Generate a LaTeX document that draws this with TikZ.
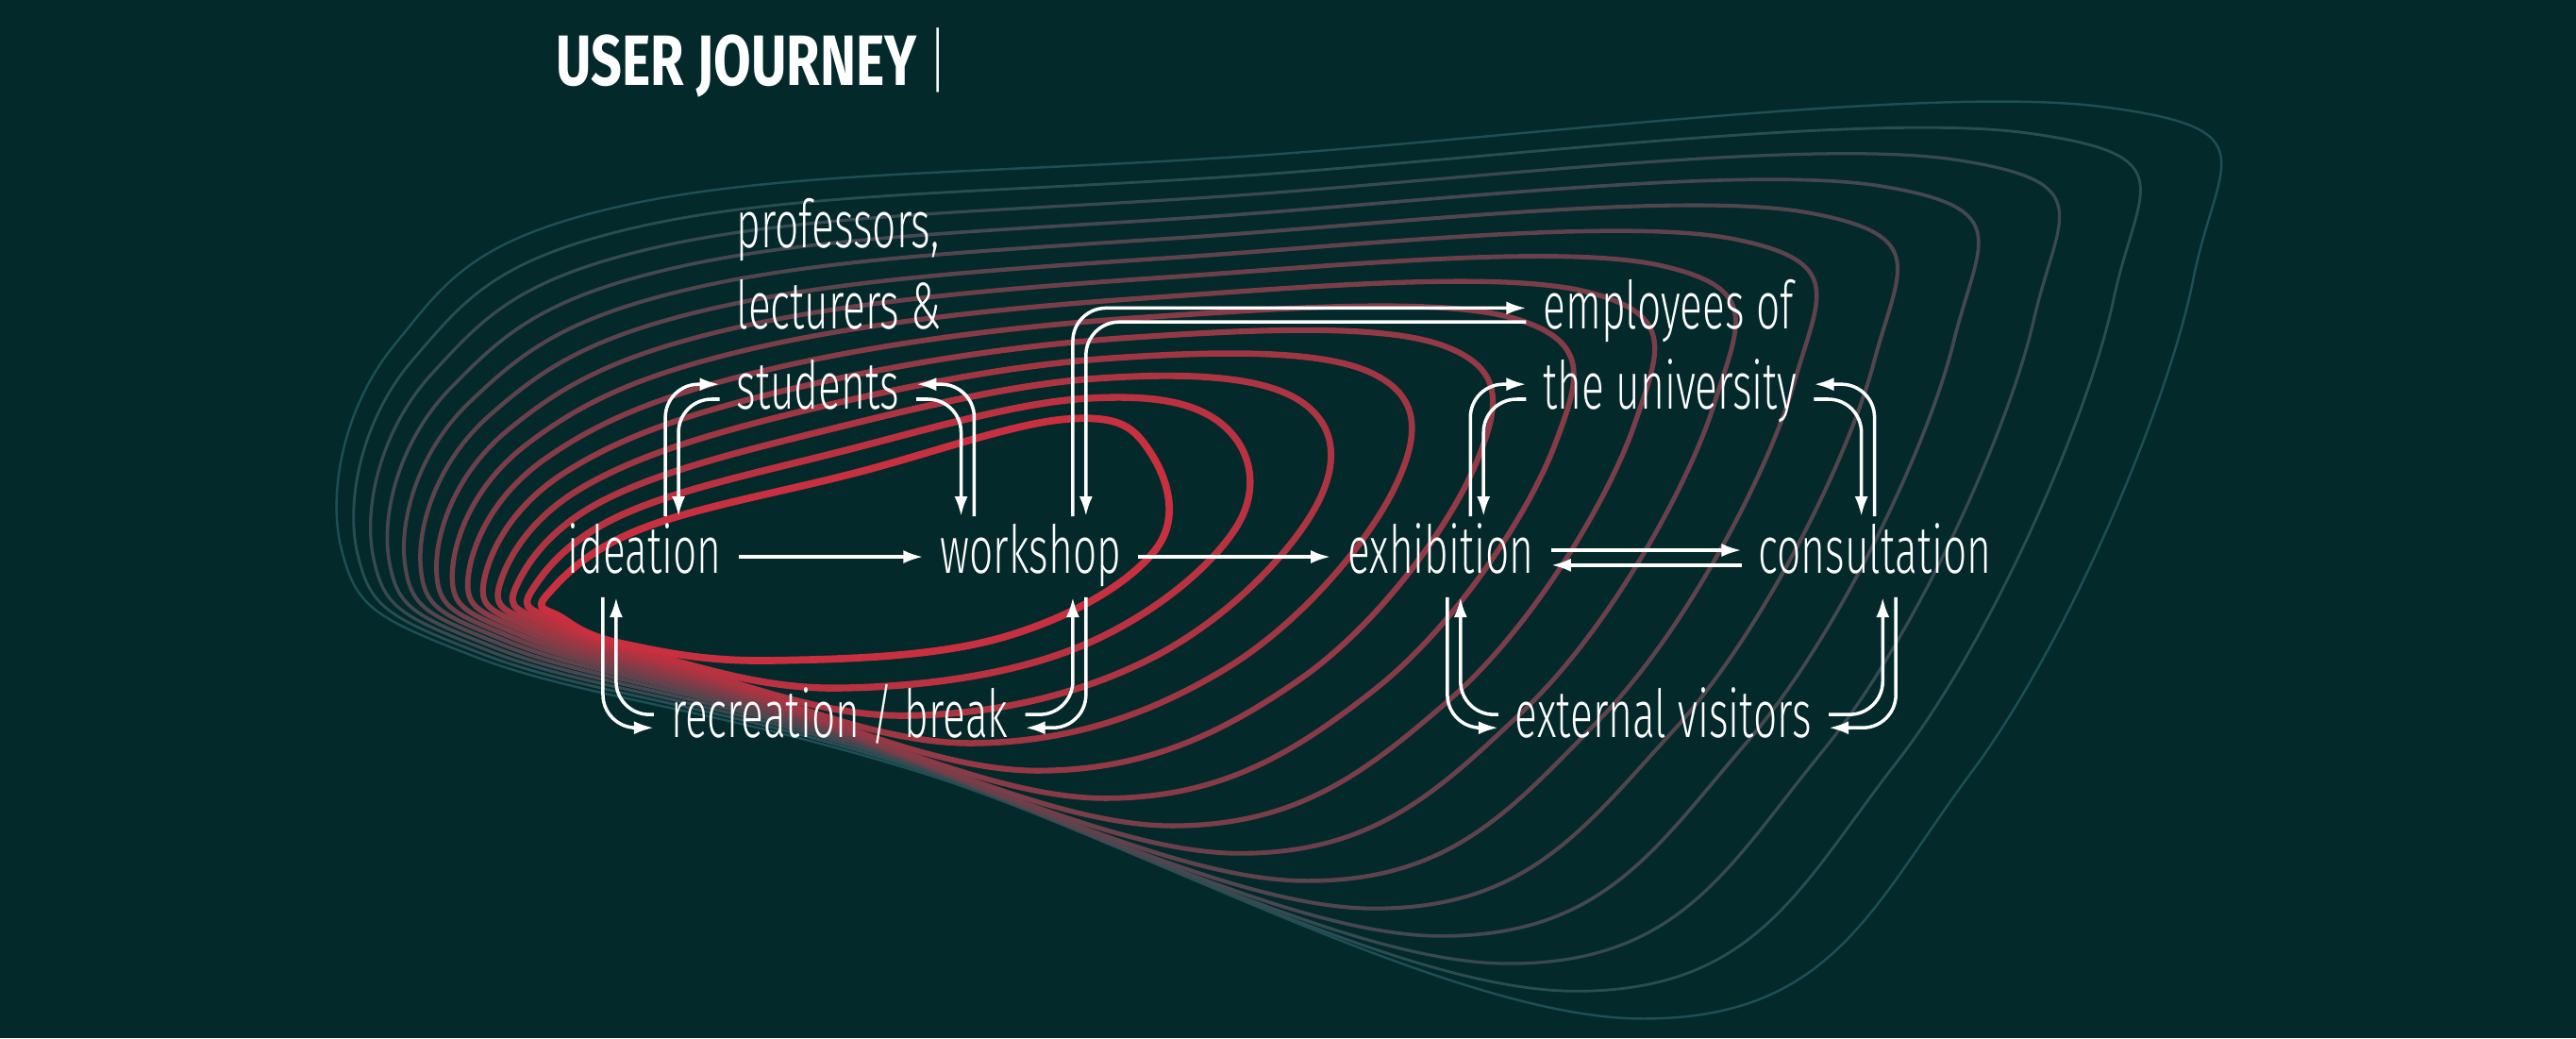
\documentclass[tikz,border=0pt]{standalone}
\usepackage{fontspec}
\setmainfont{Fira Sans}[UprightFont=* Light, FakeStretch=0.63]
\newfontfamily\tfont{Fira Sans}[FakeStretch=0.76]
\usetikzlibrary{arrows.meta}
\definecolor{bg}{HTML}{03292B}
\definecolor{cR}{HTML}{C92F3E}
\definecolor{cT}{HTML}{1D4F55}
\begin{document}
\begin{tikzpicture}[x=0.017411cm,y=-0.017411cm,
  lbl/.style={anchor=base west,text=white,font=\fontsize{20}{24}\selectfont,inner xsep=4.94pt,inner ysep=3pt,text height=14pt,text depth=4pt},
  arr/.style={draw=white,line width=1pt,rounded corners=10pt,-{Latex[length=6pt,width=4pt]}},
  ln/.style={draw=white,line width=1pt,rounded corners=10pt}]
\fill[bg] (0,0) rectangle (1568,632);
\useasboundingbox (0,0) rectangle (1568,632);
% contours
\foreach \i in {13,12,...,0}{
  \pgfmathsetmacro\t{\i/13}
  \pgfmathsetmacro\pc{100*(1-\t)}
  \pgfmathsetmacro\lw{2.2-1.5*\t}
  \pgfmathsetmacro\ax{333+\t*(208-333)}\pgfmathsetmacro\ay{362+\t*(335-362)}
  \pgfmathsetmacro\bx{390+\t*(240-390)}\pgfmathsetmacro\by{322+\t*(210-322)}
  \pgfmathsetmacro\cx{520+\t*(380-520)}\pgfmathsetmacro\cy{288+\t*(125-288)}
  \pgfmathsetmacro\dx{650+\t*(760-650)}\pgfmathsetmacro\dy{255+\t*(95-255)}
  \pgfmathsetmacro\ex{700+\t*(1280-700)}\pgfmathsetmacro\ey{275+\t*(65-275)}
  \pgfmathsetmacro\fx{703+\t*(1335-703)}\pgfmathsetmacro\fy{335+\t*(170-335)}
  \pgfmathsetmacro\gx{610+\t*(1200-610)}\pgfmathsetmacro\gy{388+\t*(470-388)}
  \pgfmathsetmacro\hx{470+\t*(1000-470)}\pgfmathsetmacro\hy{402+\t*(620-402)}
  \pgfmathsetmacro\ix{380+\t*(560-380)}\pgfmathsetmacro\iy{392+\t*(470-392)}
  \pgfmathsetmacro\jx{342+\t*(290-342)}\pgfmathsetmacro\jy{376+\t*(400-376)}
  \draw[color=cR!\pc!cT,line width=\lw pt] plot[smooth cycle,tension=0.65] coordinates
   {(\ax,\ay) (\bx,\by) (\cx,\cy) (\dx,\dy) (\ex,\ey) (\fx,\fy) (\gx,\gy) (\hx,\hy) (\ix,\iy) (\jx,\jy)};
}
% title
\node[anchor=base west,inner sep=0,text=white,font=\tfont\bfseries\fontsize{21.5}{24}\selectfont] (title) at (338,52) {USER JOURNEY};
\node[anchor=base west,inner sep=0,text=white,font=\fontsize{21.5}{24}\selectfont] (bar) at (565,52) {|};
% labels
\node[lbl] (prof) at (438,151) {professors,};
\node[lbl] (lect) at (438,200) {lecturers \&};
\node[lbl] (stu) at (438,249) {students};
\node[lbl] (emp) at (929,200) {employees of};
\node[lbl] (uni) at (929,249) {the university};
\node[lbl] (ide) at (335,349) {ideation};
\node[lbl] (work) at (562,349) {workshop};
\node[lbl] (exh) at (810,349) {exhibition};
\node[lbl] (cons) at (1060,349) {consultation};
\node[lbl] (rec) at (398,449) {recreation / break};
\node[lbl] (ext) at (912,449) {external visitors};
% main flow
\draw[arr,rounded corners=0pt] (ide.east) -- (work.west);
\draw[arr,rounded corners=0pt] (work.east) -- (exh.west);
\draw[arr,rounded corners=0pt] ([yshift=2pt]exh.east) -- ([yshift=2pt]cons.west);
\draw[arr,rounded corners=0pt] ([yshift=-2.5pt]cons.west) -- ([yshift=-2.5pt]exh.east);
% students
\draw[arr] (ide.north -| 405,0) |- ([yshift=2.5pt]stu.west);
\draw[arr] ([yshift=-2pt]stu.west) -| (ide.north -| 413,0);
\draw[arr] ([yshift=-2pt]stu.east) -| (work.north -| 585,0);
\draw[arr] (work.north -| 593,0) |- ([yshift=2.5pt]stu.east);
% employees
\draw[arr] (work.north -| 653,0) |- ([yshift=1.2pt]emp.west);
\draw[arr] ([yshift=-3pt]emp.west) -| (work.north -| 661,0);
% university
\draw[arr] (exh.north -| 895,0) |- ([yshift=2.5pt]uni.west);
\draw[arr] ([yshift=-2pt]uni.west) -| (exh.north -| 903,0);
\draw[arr] (cons.north -| 1141,0) |- ([yshift=2.5pt]uni.east);
\draw[arr] ([yshift=-2pt]uni.east) -| (cons.north -| 1133,0);
% recreation
\draw[arr] (ide.south -| 367,0) |- ([yshift=-2pt]rec.west);
\draw[arr] ([yshift=2pt]rec.west) -| (ide.south -| 375,0);
\draw[arr] ([yshift=2pt]rec.east) -| (work.south -| 653,0);
\draw[arr] (work.south -| 661,0) |- ([yshift=-2pt]rec.east);
% external visitors
\draw[arr] (exh.south -| 881,0) |- ([yshift=-2pt]ext.west);
\draw[arr] ([yshift=2pt]ext.west) -| (exh.south -| 889,0);
\draw[arr] ([yshift=2pt]ext.east) -| (cons.south -| 1146,0);
\draw[arr] (cons.south -| 1154,0) |- ([yshift=-2pt]ext.east);
\end{tikzpicture}
\end{document}
